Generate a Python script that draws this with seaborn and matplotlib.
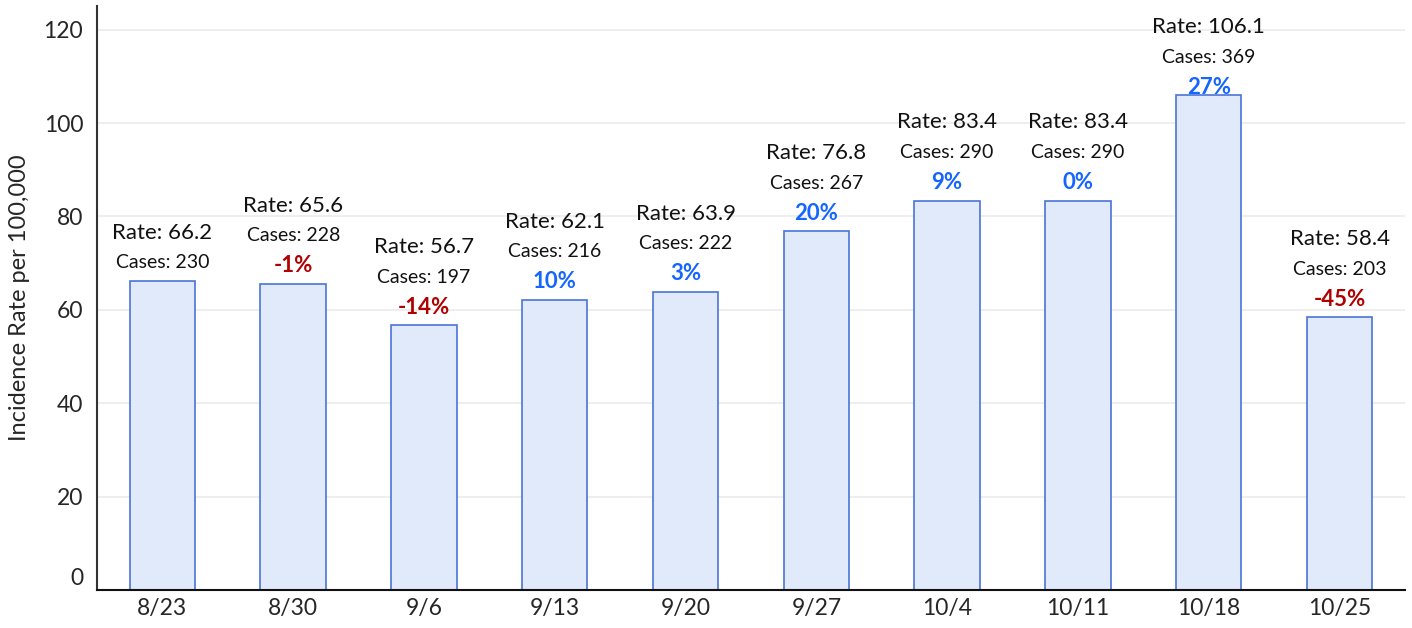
import matplotlib
matplotlib.use("Agg")
import matplotlib.pyplot as plt
import matplotlib.transforms as mtransforms
import seaborn as sns
import pandas as pd

weeks = ["8/23", "8/30", "9/6", "9/13", "9/20", "9/27", "10/4", "10/11", "10/18", "10/25"]
rates = [66.2, 65.6, 56.7, 62.1, 63.9, 76.8, 83.4, 83.4, 106.1, 58.4]
cases = [230, 228, 197, 216, 222, 267, 290, 290, 369, 203]
changes = [None, -1, -14, 10, 3, 20, 9, 0, 27, -45]

FONT = ["Lato", "DejaVu Sans"]
BAR_FILL = "#e1eafb"
BAR_EDGE = "#4a74d4"
RED = "#b00000"
BLUE = "#1565ff"
YMAX = 125

sns.set_style("white")
plt.rcParams["font.family"] = FONT

df = pd.DataFrame({"week": weeks, "rate": rates})

fig = plt.figure(figsize=(14.12, 6.28), dpi=100)
ax = fig.add_axes([0.0687, 0.0605, 0.9263, 0.9295])

sns.barplot(data=df, x="week", y="rate", color=BAR_FILL, edgecolor=BAR_EDGE,
            linewidth=1.2, width=0.5, saturation=1, ax=ax, zorder=2)

ax.set_xlim(-0.5, len(weeks) - 0.5)
ax.set_ylim(0, YMAX)
ax.set_yticks([0, 20, 40, 60, 80, 100, 120])
ax.yaxis.grid(True, color="#ebebeb", linewidth=1.2, zorder=0)
ax.set_axisbelow(True)

ax.set_xlabel("")
ax.set_ylabel("Incidence Rate per 100,000", fontsize=17, labelpad=10)
ax.tick_params(axis="y", length=0, labelsize=16.5, pad=10)
ax.tick_params(axis="x", which="major", length=0, labelsize=16.5, pad=6)
ax.set_xticks([i + 0.5 for i in range(-1, len(weeks))], minor=True)
ax.tick_params(axis="x", which="minor", length=7, color="#dddddd", width=1)

for s in ["top", "right"]:
    ax.spines[s].set_visible(False)
ax.spines["left"].set_color("#333333")
ax.spines["left"].set_linewidth(1.5)
ax.spines["bottom"].set_color("#111111")
ax.spines["bottom"].set_linewidth(1.5)

# lift the "0" label above the axis line
zero = ax.get_yticklabels()[0]
zero.set_transform(zero.get_transform() + mtransforms.ScaledTranslation(0, 0.14, fig.dpi_scale_trans))

# points per data unit on the y axis, to keep labels of tall bars inside the plot
pts_per_unit = ax.get_position().height * fig.get_figheight() * 72 / YMAX
STEP = 21.6

for i, (r, c, ch) in enumerate(zip(rates, cases, changes)):
    lines = []
    if ch is not None:
        lines.append(("%d%%" % ch, 16, "bold", RED if ch < 0 else BLUE))
    lines.append(("Cases: %d" % c, 14, "normal", "#111111"))
    lines.append(("Rate: %.1f" % r, 16, "normal", "#111111"))
    room = (YMAX - r) * pts_per_unit - 15 - STEP * (len(lines) - 1)
    base = min(13, room)
    for k, (txt, fs, fw, col) in enumerate(lines):
        ax.annotate(txt, (i, r), xytext=(0, base + STEP * k), textcoords="offset points",
                    ha="center", va="center", fontsize=fs, fontweight=fw, color=col)

fig.savefig("out.png", dpi=100)
